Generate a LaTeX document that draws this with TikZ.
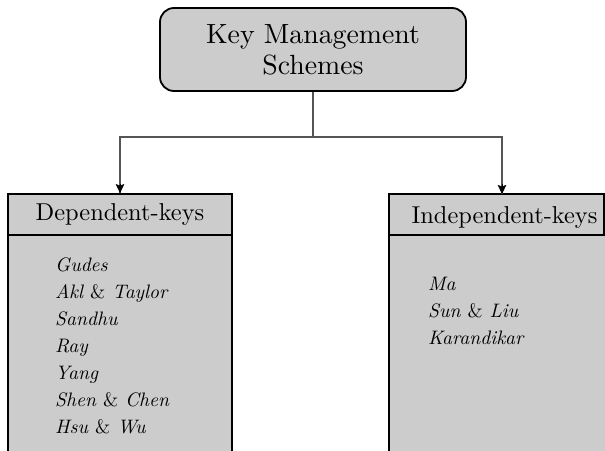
\documentclass[tikz,border=0pt]{standalone}
\usepackage{fontspec}
% the 10pt design of Latin Modern at every size
\setmainfont{lmroman10}[Extension=.otf, UprightFont=*-regular,
  ItalicFont=*-italic, BoldFont=*-bold, BoldItalicFont=*-bolditalic]
\usetikzlibrary{arrows.meta}
\definecolor{boxfill}{HTML}{CCCCCC}
\definecolor{linkgray}{HTML}{555555}
\newcommand{\amp}{{\upshape\&}}
\tikzset{
  rootbox/.style={draw=black, line width=1.8pt, fill=boxfill, rounded corners=14pt,
    minimum width=306pt, minimum height=83pt, align=center, inner sep=0pt,
    font=\fontsize{27.8}{31}\selectfont},
  headbox/.style={draw=black, line width=1.8pt, fill=boxfill, minimum height=41pt,
    inner sep=0pt, font=\fontsize{24.4}{29}\selectfont},
  bodybox/.style={draw=black, line width=1.8pt, fill=boxfill},
  namelist/.style={anchor=base west, align=left, inner sep=0pt,
    font=\fontsize{19.5}{27}\selectfont\itshape},
  link/.style={draw=linkgray, line width=1.1pt},
  tip/.style={-{Stealth[length=9pt,width=8.5pt,inset=1.5pt]}, color=black}
}
\begin{document}
\begin{tikzpicture}[x=1pt,y=-1pt]
  \useasboundingbox (0,0) rectangle (605,450);
  \clip (0,0) rectangle (605,450);

  % root of the tree
  \node[rootbox] (kms) at (313,49.5) {Key Management\\Schemes};

  % left column: dependent keys (list anchored at its last baseline)
  \draw[bodybox] (8,235) rectangle (232,470);
  \node[headbox, minimum width=224pt] (dep) at (120,214.5) {Dependent-keys};
  \node[namelist] (deplist) at (55,433)
    {Gudes\\Akl \amp{} Taylor\\Sandhu\\Ray\\Yang\\Shen \amp{} Chen\\Hsu \amp{} Wu};

  % right column: independent keys
  \draw[bodybox] (389,235) rectangle (625,470);
  \node[headbox, minimum width=215pt] (indep) at (496.5,214.5) {};
  \node[anchor=base, inner sep=0pt, font=\fontsize{24.4}{29}\selectfont]
    (indeplabel) at (504.5,223) {Independent-keys};
  \node[namelist] (indeplist) at (428,344) {Ma\\Sun \amp{} Liu\\Karandikar};

  % connectors
  \coordinate (split) at (313,137);
  \coordinate (indtop) at (502,194);
  \draw[link] (kms.south) -- (split);
  \draw[link] (split) -| (dep.north);
  \draw[link] (split) -| (indtop);
  \draw[tip] (120,184) -- (dep.north);
  \draw[tip] (502,184) -- (indtop);
\end{tikzpicture}
\end{document}
